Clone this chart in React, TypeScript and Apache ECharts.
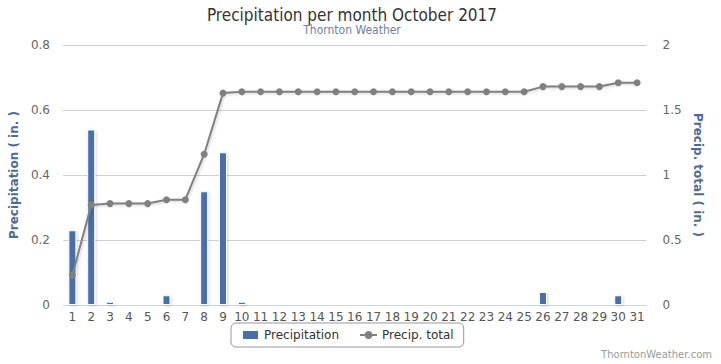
import React, { useEffect, useRef } from "react";
import * as echarts from "echarts";

const days = Array.from({ length: 31 }, (_, i) => String(i + 1));
const precipitation = [
  0.23, 0.54, 0.01, 0, 0, 0.03, 0, 0.35, 0.47, 0.01,
  0, 0, 0, 0, 0, 0, 0, 0, 0, 0,
  0, 0, 0, 0, 0, 0.04, 0, 0, 0, 0.03, 0,
];
const precipTotal = [
  0.23, 0.77, 0.78, 0.78, 0.78, 0.81, 0.81, 1.16, 1.63, 1.64,
  1.64, 1.64, 1.64, 1.64, 1.64, 1.64, 1.64, 1.64, 1.64, 1.64,
  1.64, 1.64, 1.64, 1.64, 1.64, 1.68, 1.68, 1.68, 1.68, 1.71, 1.71,
];
const leftTicks = [0, 0.2, 0.4, 0.6, 0.8];
const rightTicks = [0, 0.5, 1, 1.5, 2];

const FONT = "DejaVu Sans";

export default function App() {
  const ref = useRef<HTMLDivElement>(null);
  useEffect(() => {
    if (!ref.current) return;
    const chart = echarts.init(ref.current, null, { renderer: "svg" });
    chart.setOption({
      animation: false,
      backgroundColor: "#ffffff",
      title: [
        {
          text: "Precipitation per month October 2017",
          left: 347,
          textAlign: "center",
          top: 1,
          textStyle: {
            fontFamily: "'DejaVu Sans Condensed', 'Liberation Sans', sans-serif",
            fontSize: 17,
            fontWeight: "normal",
            color: "#333333",
          },
        },
        {
          text: "Thornton Weather",
          left: 347,
          textAlign: "center",
          top: 19,
          textStyle: {
            fontFamily: "'DejaVu Sans Condensed', 'DejaVu Sans', sans-serif",
            fontSize: 12,
            fontWeight: "normal",
            color: "#6d7fa3",
          },
        },
      ],
      grid: { left: 57.5, right: 74.5, top: 45, bottom: 59 },
      legend: {
        left: 231,
        top: 323,
        width: 232,
        height: 14,
        padding: [6, 10, 6, 10],
        itemGap: 20,
        itemWidth: 17,
        itemHeight: 10,
        borderColor: "#999999",
        borderWidth: 1,
        borderRadius: 5,
        textStyle: { fontFamily: FONT, fontSize: 12, color: "#333333" },
        data: [
          { name: "Precipitation", icon: "rect" },
          { name: "Precip. total" },
        ],
      },
      xAxis: {
        type: "category",
        data: days,
        boundaryGap: true,
        axisLine: { lineStyle: { color: "#ccd6eb" } },
        axisTick: { alignWithLabel: false, length: 7, lineStyle: { color: "#ccd6eb" } },
        axisLabel: {
          interval: 0,
          fontFamily: FONT,
          fontSize: 12,
          color: "#555555",
          margin: 6,
        },
      },
      yAxis: [
        {
          type: "value",
          min: leftTicks[0],
          max: leftTicks[leftTicks.length - 1],
          interval: 0.2,
          name: "Precipitation ( in. )",
          nameLocation: "middle",
          nameGap: 37,
          nameRotate: 90,
          nameTextStyle: {
            fontFamily: FONT,
            fontSize: 12,
            fontWeight: "bold",
            color: "#4d6b99",
          },
          axisLabel: {
            fontFamily: FONT,
            fontSize: 12,
            color: "#666666",
            margin: 13,
            formatter: (v: number) => String(Math.round(v * 10) / 10),
          },
          splitLine: { lineStyle: { color: "#d0d0d0" } },
          axisLine: { show: false },
          axisTick: { show: false },
        },
        {
          type: "value",
          min: rightTicks[0],
          max: rightTicks[rightTicks.length - 1],
          interval: 0.5,
          name: "Precip. total ( in. )",
          nameLocation: "middle",
          nameGap: 31,
          nameRotate: -90,
          nameTextStyle: {
            fontFamily: FONT,
            fontSize: 12,
            fontWeight: "bold",
            color: "#4d6b99",
          },
          axisLabel: {
            fontFamily: FONT,
            fontSize: 12,
            color: "#666666",
            margin: 16,
          },
          splitLine: { show: false },
          axisLine: { show: false },
          axisTick: { show: false },
        },
      ],
      series: [
        {
          name: "Precipitation",
          type: "bar",
          yAxisIndex: 0,
          data: precipitation,
          barWidth: 8,
          itemStyle: {
            color: "#4a6ea8",
            borderColor: "#ffffff",
            borderWidth: 1,
            shadowBlur: 3,
            shadowColor: "rgba(0,0,0,0.18)",
            shadowOffsetX: 1,
            shadowOffsetY: 1,
          },
        },
        {
          name: "Precip. total",
          type: "line",
          yAxisIndex: 1,
          data: precipTotal,
          symbol: "circle",
          symbolSize: 7,
          lineStyle: {
            color: "#808080",
            width: 2,
            shadowBlur: 3,
            shadowColor: "rgba(0,0,0,0.2)",
            shadowOffsetX: 1,
            shadowOffsetY: 1,
          },
          itemStyle: { color: "#808080" },
          z: 3,
        },
      ],
      graphic: [
        {
          type: "text",
          right: 9,
          top: 349,
          style: {
            text: "ThorntonWeather.com",
            fontFamily: FONT,
            fontSize: 10,
            fill: "#999999",
          },
        },
      ],
    });
    return () => chart.dispose();
  }, []);
  return (
    <div
      ref={ref}
      style={{ width: 721, height: 364, position: "absolute", left: 0, top: 0 }}
    />
  );
}
